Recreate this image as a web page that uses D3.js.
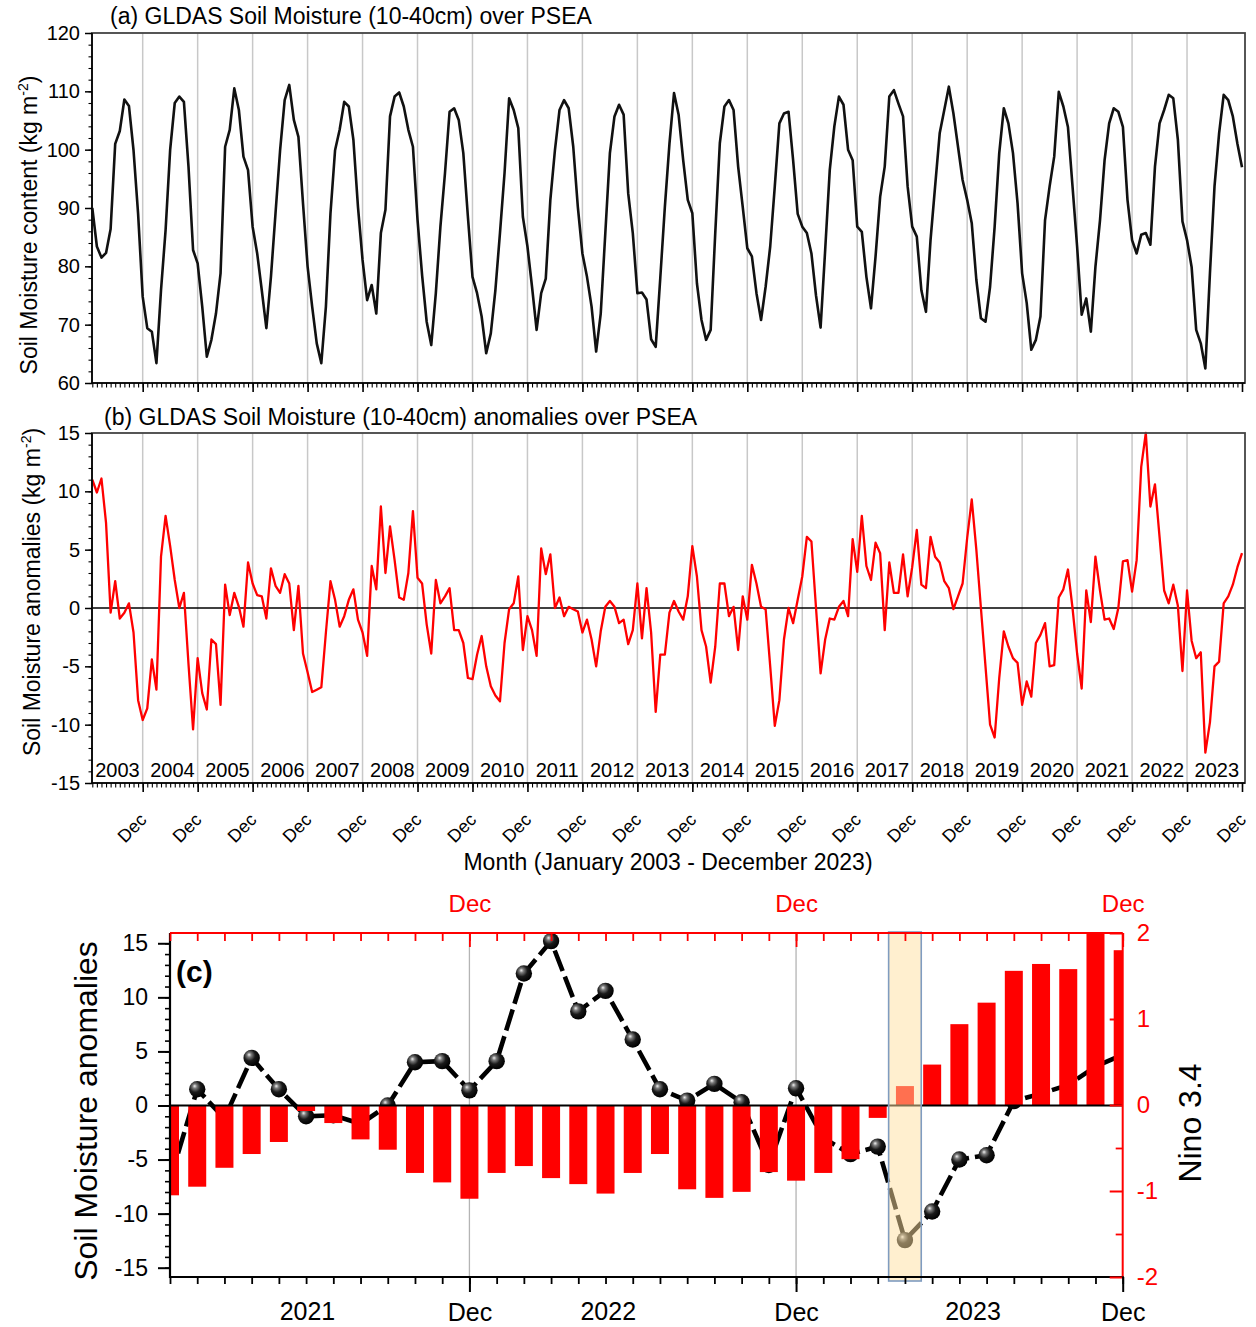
<!DOCTYPE html>
<html>
<head>
<meta charset="utf-8">
<script src="https://cdn.jsdelivr.net/npm/d3@7/dist/d3.min.js"></script>
<style>
  html,body{margin:0;padding:0;background:#fff;}
  svg{display:block;}
  text{font-family:"Liberation Sans", Arial, Helvetica, sans-serif;}
</style>
</head>
<body>
<svg id="chart" width="1256" height="1327" viewBox="0 0 1256 1327"></svg>
<script>
// ---------------- DATA ----------------
const years = ["2003","2004","2005","2006","2007","2008","2009","2010","2011","2012","2013",
               "2014","2015","2016","2017","2018","2019","2020","2021","2022","2023"];

// (a) GLDAS soil moisture content (kg m-2), monthly Jan 2003 - Dec 2023
const smContent = [
  90, 83.4, 81.5, 82.3, 86.4, 101, 103.2, 108.6, 107.5, 99.9, 89, 74.8,
  69.4, 68.8, 63.4, 75.9, 86.2, 100, 108, 109.1, 108.2, 97.1, 82.8, 80.5,
  73.1, 64.5, 67.4, 71.9, 78.8, 100.5, 103.4, 110.5, 106.8, 98.8, 96.5, 86.8,
  82.2, 75.9, 69.4, 78.2, 89.1, 99.9, 108.5, 111.1, 105.1, 102.2, 90.8, 80,
  73.1, 66.8, 63.4, 73.1, 89.1, 99.9, 103.4, 108.2, 107.4, 101.7, 90.2, 81.1,
  74.2, 76.8, 71.9, 85.7, 89.7, 105.7, 109.1, 109.8, 107.4, 103.4, 100.5, 88,
  78.5, 70.5, 66.5, 75.4, 86.8, 96, 106.5, 107.1, 105.1, 99.4, 88.5, 78.2,
  75.4, 71.4, 65.1, 68.5, 75.9, 85.7, 96, 108.8, 106.8, 103.7, 88.5, 83.4,
  76.5, 69.1, 75.4, 77.9, 91.4, 99.9, 106.8, 108.5, 107.1, 100.5, 90.2, 82.2,
  78.2, 73.1, 65.4, 71.9, 85.7, 99.4, 105.7, 107.7, 106, 92.5, 85.7, 75.4,
  75.5, 74.3, 67.5, 66.2, 78, 90.2, 101, 109.7, 106, 98.2, 91.4, 89.1,
  77.1, 70.8, 67.4, 69.1, 85.7, 101.1, 107.4, 108.5, 106.8, 97.1, 90.2, 83.1,
  81.7, 75.4, 70.8, 76.5, 83.4, 93.7, 104.5, 106.2, 106.5, 98.2, 89, 86.8,
  85.7, 82.2, 75, 69.5, 82.8, 96.5, 104, 109.1, 107.7, 100, 98.2, 86.8,
  85.9, 78.2, 72.8, 81.7, 91.9, 97.1, 109.1, 110.2, 107.9, 105.7, 93.7, 86.8,
  85.1, 75.9, 72.2, 84.5, 93.7, 102.8, 106.8, 110.8, 106.2, 100.5, 94.8, 91.4,
  87.4, 77.7, 71.1, 70.5, 76.5, 86.8, 99.4, 107.1, 104.5, 99.4, 90.8, 78.8,
  73.7, 65.7, 67.4, 71.4, 87.9, 93.7, 98.8, 109.9, 107.4, 103.9, 93.7, 83.4,
  71.7, 74.5, 68.8, 79.9, 87.9, 98.2, 104.5, 107.1, 106.5, 103.9, 91.4, 84.5,
  82.2, 85.4, 85.7, 83.7, 97.1, 104.5, 106.8, 109.4, 108.8, 101.7, 87.7, 84.5,
  79.9, 69.1, 66.8, 62.5, 78.8, 93.7, 102.8, 109.4, 108.5, 105.7, 101, 97
];

// (b) GLDAS soil moisture anomalies (kg m-2), monthly Jan 2003 - Dec 2023
const smAnomaly = [
  11.0, 9.9, 11.1, 7.3, -0.4, 2.3, -0.9, -0.4, 0.4, -2.1, -7.9, -9.6,
  -8.6, -4.4, -7.0, 4.4, 7.9, 5.3, 2.4, 0.0, 1.3, -4.8, -10.4, -4.3,
  -7.3, -8.7, -2.7, -3.1, -8.3, 2.0, -0.6, 1.3, 0.1, -1.6, 3.9, 2.1,
  1.1, 1.0, -0.9, 3.4, 1.9, 1.3, 2.9, 2.1, -1.9, 1.9, -3.9, -5.5,
  -7.2, -7.0, -6.8, -2.1, 2.3, 0.7, -1.6, -0.7, 0.7, 1.6, -1.0, -2.1,
  -4.1, 3.6, 1.6, 8.7, 3.0, 7.0, 4.1, 0.9, 0.7, 3.0, 8.3, 2.6,
  2.1, -1.4, -3.9, 2.4, 0.4, 1.0, 1.7, -1.9, -1.9, -3.0, -6.0, -6.1,
  -4.0, -2.4, -5.0, -6.7, -7.5, -8.0, -3.0, -0.1, 0.4, 2.7, -3.6, -0.7,
  -1.9, -4.1, 5.1, 2.9, 4.6, 0.0, 0.9, -0.7, 0.1, -0.1, -0.3, -2.1,
  -1.0, -2.7, -5.0, -2.0, 0.1, 0.6, 0.1, -1.3, -1.0, -3.1, -1.9, 2.1,
  -2.6, 1.7, -2.1, -8.9, -4.0, -4.0, -0.4, 0.6, -0.3, -1.0, 1.0, 5.3,
  2.7, -1.9, -3.3, -6.4, -3.3, 2.1, 2.1, -0.7, 0.1, -3.6, 1.0, -1.0,
  3.7, 2.1, 0.1, -0.1, -5.0, -10.1, -7.9, -2.7, 0.0, -1.3, 0.7, 2.7,
  6.1, 5.7, 0.0, -5.6, -2.7, -0.9, -1.0, 0.1, 0.6, -0.7, 5.9, 3.1,
  7.9, 3.6, 2.4, 5.6, 4.7, -1.9, 3.9, 1.3, 1.3, 4.6, 1.0, 3.5,
  6.7, 2.0, 1.7, 6.1, 4.4, 3.9, 2.3, 1.7, -0.1, 1.0, 2.1, 6.0,
  9.3, 5.0, 0.0, -5.0, -10.0, -11.1, -6.0, -2.0, -3.3, -4.3, -4.7, -8.3,
  -6.3, -7.6, -3.0, -2.3, -1.3, -5.0, -4.9, 0.9, 1.6, 3.3, 0.0, -3.9,
  -6.9, 1.5, -1.2, 4.4, 1.5, -1.0, -0.9, -1.8, 0.0, 4.0, 4.1, 1.4,
  4.1, 12.1, 15.0, 8.7, 10.6, 6.1, 1.5, 0.4, 2.0, 0.2, -5.4, 1.5,
  -2.8, -4.3, -3.8, -12.4, -9.8, -5.0, -4.6, 0.4, 1.0, 2.0, 3.5, 4.7
];

// (c) Jan 2021 - Dec 2023
const monthNames = ["Jan","Feb","Mar","Apr","May","Jun","Jul","Aug","Sep","Oct","Nov","Dec"];
const yearsC = ["2021","2022","2023"];
const smAnomalyC = [
  -6.9, 1.5, -1.2, 4.4, 1.5, -1.0, -0.9, -1.7, 0.0, 4.0, 4.1, 1.4,
  4.1, 12.2, 15.2, 8.7, 10.6, 6.1, 1.5, 0.45, 2.0, 0.3, -5.5, 1.6,
  -3.0, -4.5, -3.8, -12.45, -9.8, -5.0, -4.6, 0.4, 1.1, 1.9, 3.6, 4.7
];
const nino34 = [
  -1.05, -0.95, -0.73, -0.57, -0.43, -0.07, -0.21, -0.40, -0.52, -0.79, -0.90, -1.09,
  -0.79, -0.71, -0.85, -0.92, -1.03, -0.79, -0.57, -0.98, -1.08, -1.01, -0.78, -0.88,
  -0.79, -0.63, -0.15, 0.22, 0.47, 0.94, 1.19, 1.56, 1.64, 1.58, 2.0, 1.80
];
const yearLabelPosC = [5.05, 16.1, 29.5];   // month index where year labels sit
const highlightMonth = "Apr 2023";

const yTicksA = [60, 70, 80, 90, 100, 110, 120];
const yTicksB = [-15, -10, -5, 0, 5, 10, 15];
const yTicksCL = [-15, -10, -5, 0, 5, 10, 15];
const yTicksCR = [-2, -1, 0, 1, 2];

// ---------------- CHART ----------------
const svg = d3.select('#chart');
const defs = svg.append('defs');

const A = {l: 92, r: 1245, t: 33, b: 383};
const B = {l: 92, r: 1245, t: 433, b: 783};
const C = {l: 170, r: 1122.7, t: 933, b: 1277};

const nAB = smContent.length;
const x = d3.scaleLinear().domain([0, nAB - 1]).range([92.3, 1242]);
const decIdx = d3.range(11, nAB, 12);
const yA = d3.scaleLinear().domain([60, 120]).range([A.b, A.t]);
const yB = d3.scaleLinear().domain([-15, 15]).range([B.b, B.t]);

function grid(P) {
  svg.append('g').selectAll('line').data(decIdx.slice(0, -1)).join('line')
    .attr('x1', d => x(d)).attr('x2', d => x(d))
    .attr('y1', P.t).attr('y2', P.b)
    .attr('stroke', '#c8c8c8').attr('stroke-width', 1.5);
}
function cleanAxis(g, color, w) {
  g.select('.domain').remove();
  g.selectAll('line').attr('stroke', color).attr('stroke-width', w);
  g.selectAll('text').attr('fill', color);
}
function frame(P) {
  svg.append('rect').attr('x', P.l).attr('y', P.t).attr('width', P.r - P.l).attr('height', P.b - P.t)
    .attr('fill', 'none').attr('stroke', '#444').attr('stroke-width', 1.8);
  svg.append('line').attr('x1', P.l).attr('x2', P.l).attr('y1', P.t).attr('y2', P.b + 0.5)
    .attr('stroke', '#000').attr('stroke-width', 1.6);
  svg.append('line').attr('x1', P.l).attr('x2', P.r).attr('y1', P.b).attr('y2', P.b)
    .attr('stroke', '#000').attr('stroke-width', 1.6);
}
function bottomTicks(P) {
  const g1 = svg.append('g').attr('transform', `translate(0,${P.b})`)
    .call(d3.axisBottom(x).tickValues(d3.range(nAB)).tickSize(4.5).tickFormat(''));
  cleanAxis(g1, '#000', 1.1);
  const g2 = svg.append('g').attr('transform', `translate(0,${P.b})`)
    .call(d3.axisBottom(x).tickValues(decIdx).tickSize(9).tickFormat(''));
  cleanAxis(g2, '#000', 1.6);
}
function leftAxis(P, y, major, minorStep) {
  const dom = y.domain();
  const g1 = svg.append('g').attr('transform', `translate(${P.l},0)`)
    .call(d3.axisLeft(y).tickValues(d3.range(dom[0], dom[1] + 0.001, minorStep)).tickSize(3.5).tickFormat(''));
  cleanAxis(g1, '#000', 1.1);
  const g2 = svg.append('g').attr('transform', `translate(${P.l},0)`)
    .call(d3.axisLeft(y).tickValues(major).tickSize(7).tickPadding(5).tickFormat(d => String(d)));
  cleanAxis(g2, '#000', 1.5);
  g2.selectAll('text').style('font-size', '20px');
}
function yTitle(tx, ty, main, size) {
  const t = svg.append('text').attr('transform', `translate(${tx},${ty}) rotate(-90)`)
    .attr('text-anchor', 'middle').style('font-size', size + 'px').attr('fill', '#000');
  t.append('tspan').text(main + ' (kg m');
  t.append('tspan').attr('dy', -9).style('font-size', '14px').text('-2');
  t.append('tspan').attr('dy', 9).text(')');
}

// ---- Panel (a)
grid(A);
svg.append('path').datum(smContent)
  .attr('d', d3.line().x((d, i) => x(i)).y(d => yA(d)))
  .attr('fill', 'none').attr('stroke', '#111').attr('stroke-width', 2.6).attr('stroke-linejoin', 'round');
frame(A);
bottomTicks(A);
leftAxis(A, yA, yTicksA, 2);
svg.append('text').attr('x', 110).attr('y', 24).style('font-size', '23px').attr('fill', '#000')
  .text('(a) GLDAS Soil Moisture (10-40cm) over PSEA');
yTitle(37, 225, 'Soil Moisture content', 23);

// ---- Panel (b)
grid(B);
svg.append('line').attr('x1', B.l).attr('x2', B.r).attr('y1', yB(0)).attr('y2', yB(0))
  .attr('stroke', '#000').attr('stroke-width', 1.6);
svg.append('path').datum(smAnomaly)
  .attr('d', d3.line().x((d, i) => x(i)).y(d => yB(d)))
  .attr('fill', 'none').attr('stroke', '#ff0000').attr('stroke-width', 2.3).attr('stroke-linejoin', 'round');
frame(B);
bottomTicks(B);
leftAxis(B, yB, yTicksB, 1);
svg.append('g').selectAll('text').data(years).join('text')
  .attr('x', (d, k) => x(k * 12 + 5.5)).attr('y', 777)
  .attr('text-anchor', 'middle').style('font-size', '20px').attr('fill', '#000').text(d => d);
svg.append('g').selectAll('text').data(decIdx).join('text')
  .attr('transform', d => `translate(${x(d) + 5},821) rotate(-45)`)
  .attr('text-anchor', 'end').style('font-size', '18px').attr('fill', '#000').text('Dec');
svg.append('text').attr('x', 104).attr('y', 425).style('font-size', '23px').attr('fill', '#000')
  .text('(b) GLDAS Soil Moisture (10-40cm) anomalies over PSEA');
yTitle(40, 592, 'Soil Moisture anomalies', 23);
svg.append('text').attr('x', 668).attr('y', 870).attr('text-anchor', 'middle')
  .style('font-size', '23px').attr('fill', '#000').text('Month (January 2003 - December 2023)');

// ---- Panel (c)
const monthsC = [];
yearsC.forEach(yr => monthNames.forEach(m => monthsC.push(m + ' ' + yr)));
const nC = monthsC.length;
const xC = d3.scaleLinear().domain([0, nC - 1]).range([C.l, C.r]);
const yL = d3.scaleLinear().domain([-15.86, 15.95]).range([C.b, C.t]);
const yR = d3.scaleLinear().domain([-2, 2]).range([C.b, C.t]);
const decC = monthsC.map((m, i) => m.startsWith('Dec') ? i : -1).filter(i => i >= 0);

defs.append('clipPath').attr('id', 'clipC').append('rect')
  .attr('x', C.l).attr('y', C.t).attr('width', C.r - C.l).attr('height', C.b - C.t);
const ball = defs.append('radialGradient').attr('id', 'ball')
  .attr('cx', '40%').attr('cy', '38%').attr('r', '62%').attr('fx', '34%').attr('fy', '30%');
ball.append('stop').attr('offset', '0%').attr('stop-color', '#f0f0f0');
ball.append('stop').attr('offset', '22%').attr('stop-color', '#7a7a7a');
ball.append('stop').attr('offset', '55%').attr('stop-color', '#1a1a1a');
ball.append('stop').attr('offset', '100%').attr('stop-color', '#000');

const gC = svg.append('g').attr('clip-path', 'url(#clipC)');
gC.selectAll('line.grid').data(decC.slice(0, -1)).join('line').attr('class', 'grid')
  .attr('x1', d => xC(d)).attr('x2', d => xC(d)).attr('y1', C.t).attr('y2', C.b)
  .attr('stroke', '#b4b4b4').attr('stroke-width', 1.3);
gC.append('path').datum(smAnomalyC)
  .attr('d', d3.line().x((d, i) => xC(i)).y(d => yL(d)))
  .attr('fill', 'none').attr('stroke', '#000').attr('stroke-width', 4.6)
  .attr('stroke-dasharray', '22,6');
gC.selectAll('circle').data(smAnomalyC).join('circle')
  .attr('cx', (d, i) => xC(i)).attr('cy', d => yL(d)).attr('r', 8.2)
  .attr('fill', 'url(#ball)');
const barW = 18;
gC.selectAll('rect.bar').data(nino34).join('rect').attr('class', 'bar')
  .attr('x', (d, i) => xC(i) - barW / 2).attr('width', barW)
  .attr('y', d => yR(Math.max(0, d)))
  .attr('height', d => Math.abs(yR(d) - yR(0)))
  .attr('fill', '#ff0000');
svg.append('line').attr('x1', C.l).attr('x2', C.r).attr('y1', yL(0)).attr('y2', yL(0))
  .attr('stroke', '#000').attr('stroke-width', 2);

// highlight column
const hi = monthsC.indexOf(highlightMonth);
svg.append('rect').attr('x', xC(hi) - 16.3).attr('y', C.t - 1).attr('width', 32.6).attr('height', C.b - C.t + 5)
  .attr('fill', 'rgba(255,224,160,0.5)').attr('stroke', '#7f9cc0').attr('stroke-width', 1.6);

// frame lines of (c)
svg.append('line').attr('x1', C.l).attr('x2', C.r).attr('y1', C.t).attr('y2', C.t).attr('stroke', '#ff0000').attr('stroke-width', 2);
svg.append('line').attr('x1', C.r).attr('x2', C.r).attr('y1', C.t).attr('y2', C.b).attr('stroke', '#ff0000').attr('stroke-width', 2);
svg.append('line').attr('x1', C.l).attr('x2', C.l).attr('y1', C.t).attr('y2', C.b + 1).attr('stroke', '#000').attr('stroke-width', 2.2);
svg.append('line').attr('x1', C.l).attr('x2', C.r + 1).attr('y1', C.b).attr('y2', C.b).attr('stroke', '#000').attr('stroke-width', 2.2);

// left axis (c)
let g = svg.append('g').attr('transform', `translate(${C.l},0)`)
  .call(d3.axisLeft(yL).tickValues(d3.range(-15, 16, 1)).tickSize(5).tickFormat(''));
cleanAxis(g, '#000', 1.6);
g = svg.append('g').attr('transform', `translate(${C.l},0)`)
  .call(d3.axisLeft(yL).tickValues(yTicksCL).tickSize(12).tickPadding(10).tickFormat(d => String(d)));
cleanAxis(g, '#000', 2);
g.selectAll('text').style('font-size', '23px');

// right axis (c)
g = svg.append('g').attr('transform', `translate(${C.r},0)`)
  .call(d3.axisRight(yR).tickValues([-1.5, -0.5, 0.5, 1.5]).tickSize(-7).tickFormat(''));
cleanAxis(g, '#ff0000', 1.8);
g = svg.append('g').attr('transform', `translate(${C.r},0)`)
  .call(d3.axisRight(yR).tickValues(yTicksCR).tickSize(-13).tickPadding(14).tickFormat(d => String(d)));
cleanAxis(g, '#ff0000', 2);
g.selectAll('text').style('font-size', '24px');

// top axis (c)
g = svg.append('g').attr('transform', `translate(0,${C.t})`)
  .call(d3.axisTop(xC).tickValues(d3.range(nC)).tickSize(-8).tickFormat(''));
cleanAxis(g, '#ff0000', 1.8);
g = svg.append('g').attr('transform', `translate(0,${C.t})`)
  .call(d3.axisTop(xC).tickValues(decC).tickSize(-14).tickPadding(21).tickFormat(() => 'Dec'));
cleanAxis(g, '#ff0000', 1.8);
g.selectAll('text').style('font-size', '24px');

// bottom axis (c)
g = svg.append('g').attr('transform', `translate(0,${C.b})`)
  .call(d3.axisBottom(xC).tickValues(d3.range(nC)).tickSize(7).tickFormat(''));
cleanAxis(g, '#000', 1.8);
g = svg.append('g').attr('transform', `translate(0,${C.b})`)
  .call(d3.axisBottom(xC).tickValues(decC).tickSize(15).tickPadding(11).tickFormat(() => 'Dec'));
cleanAxis(g, '#000', 2);
g.selectAll('text').style('font-size', '25px');
svg.append('g').selectAll('text').data(yearsC).join('text')
  .attr('x', (d, k) => xC(yearLabelPosC[k])).attr('y', 1320)
  .attr('text-anchor', 'middle').style('font-size', '25px').attr('fill', '#000').text(d => d);

// labels (c)
svg.append('text').attr('x', 176).attr('y', 982).style('font-size', '30px').style('font-weight', 'bold')
  .attr('fill', '#000').text('(c)');
svg.append('text').attr('transform', 'translate(97,1111) rotate(-90)').attr('text-anchor', 'middle')
  .style('font-size', '32px').attr('fill', '#000').text('Soil Moisture anomalies');
svg.append('text').attr('transform', 'translate(1201,1123) rotate(-90)').attr('text-anchor', 'middle')
  .style('font-size', '32px').attr('fill', '#000').text('Nino 3.4');
</script>
</body>
</html>
